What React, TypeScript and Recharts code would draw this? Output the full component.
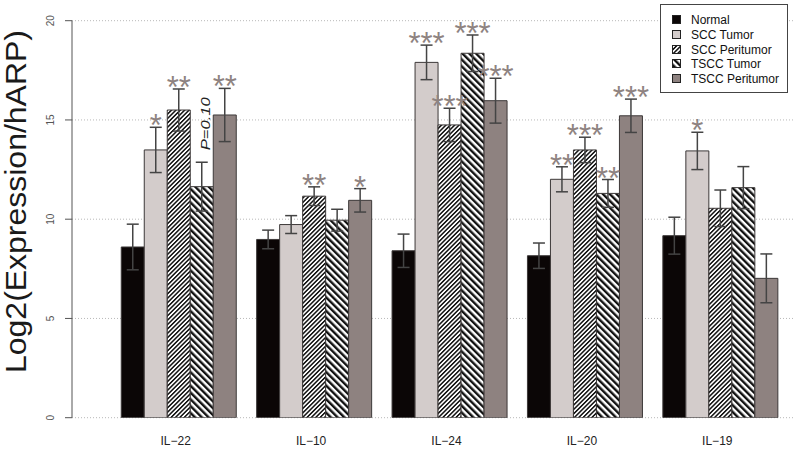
import * as React from 'react';
import { BarChart, Bar, XAxis, YAxis, CartesianGrid, ErrorBar, LabelList } from 'recharts';

// categories (R style minus sign)
const categories = ['IL\u221222', 'IL\u221210', 'IL\u221224', 'IL\u221220', 'IL\u221219'];

// Log2(Expression/hARP) means and error bar half widths
const normal = [8.6, 8.98, 8.41, 8.16, 9.17];
const normalErr = [1.15, 0.47, 0.84, 0.64, 0.93];
const sccTumor = [13.49, 9.73, 17.9, 12.01, 13.44];
const sccTumorErr = [1.14, 0.45, 0.87, 0.63, 0.94];
const sccPeri = [15.5, 11.16, 14.75, 13.49, 10.55];
const sccPeriErr = [1.06, 0.47, 0.84, 0.64, 0.92];
const tsccTumor = [11.64, 9.95, 18.36, 11.3, 11.59];
const tsccTumorErr = [1.23, 0.55, 0.92, 0.7, 1.06];
const tsccPeri = [15.25, 10.95, 15.97, 15.21, 7.02];
const tsccPeriErr = [1.34, 0.59, 1.13, 0.84, 1.23];

// significance marks above each bar
const sccTumorSig = ['*', '', '***', '**', '*'];
const sccPeriSig = ['**', '**', '***', '***', ''];
const tsccTumorSig = ['P=0.10', '', '***', '**', ''];
const tsccPeriSig = ['**', '*', '***', '***', ''];

const yTicks = [0, 5, 10, 15, 20];

const rows = categories.map((name, i) => ({
	name,
	normal: normal[i], normalErr: normalErr[i],
	sccTumor: sccTumor[i], sccTumorErr: sccTumorErr[i],
	sccPeri: sccPeri[i], sccPeriErr: sccPeriErr[i],
	tsccTumor: tsccTumor[i], tsccTumorErr: tsccTumorErr[i],
	tsccPeri: tsccPeri[i], tsccPeriErr: tsccPeriErr[i],
}));

const FONT = '"Liberation Sans", Arial, sans-serif';
const SIG_COLOR = '#8e8381';
const EDGE = '#3c3838';

const legendItems = [
	{ name: 'Normal', fill: '#0b0606' },
	{ name: 'SCC Tumor', fill: '#d3cccb' },
	{ name: 'SCC Peritumor', fill: 'url(#sccPeriPat)' },
	{ name: 'TSCC Tumor', fill: 'url(#tsccTumorPat)' },
	{ name: 'TSCC Peritumor', fill: '#8e8280' },
];

function sigLabel(sig: string[], values: number[], err: number[]) {
	return (props: any) => {
		const vb = props.viewBox && props.viewBox.width != null ? props.viewBox : props;
		const { x, y, width, height } = vb;
		const index = props.index;
		const text = sig[index];
		if (!text) return null;
		const unit = height / values[index];
		const top = y - err[index] * unit;
		const cx = x + width / 2;
		if (text.startsWith('P')) {
			const bx = cx + 8;
			const by = top - 12;
			return (
				<text x={bx} y={by} transform={`rotate(-90 ${bx} ${by})`} fontSize={12.5} fontStyle="italic"
					fontFamily={FONT} fill="#222" textLength={53} lengthAdjust="spacingAndGlyphs">
					{text}
				</text>
			);
		}
		return (
			<text x={cx} y={top + 9} textAnchor="middle" fontSize={31} fontFamily={FONT} fill={SIG_COLOR}>
				{text}
			</text>
		);
	};
}

const YTick = (p: any) => (
	<text x={p.x - 11} y={p.y} transform={`rotate(-90 ${p.x - 11} ${p.y})`} textAnchor="middle"
		fontSize={10} fontFamily={FONT} fill="#555">
		{p.payload.value}
	</text>
);

const XTick = (p: any) => (
	<text x={p.x - 2} y={p.y + 27.6} textAnchor="middle" fontSize={12} fontFamily={FONT} fill="#222">
		{p.payload.value}
	</text>
);

export default function App() {
	return (
		<div style={{ position: 'absolute', left: 0, top: 0, width: 797, height: 450, background: '#fff' }}>
			<BarChart width={797} height={450} data={rows}
				margin={{ top: 20.7, right: 2, bottom: 7.3, left: 12 }}
				barCategoryGap={11.25} barGap={0}>
				<defs>
					<pattern id="sccPeriPat" patternUnits="userSpaceOnUse" width={3.1} height={3.1} patternTransform="rotate(45)">
						<rect width={3.1} height={3.1} fill="#fff" />
						<rect width={1.5} height={3.1} fill="#111" />
					</pattern>
					<pattern id="tsccTumorPat" patternUnits="userSpaceOnUse" width={4.8} height={4.8} patternTransform="rotate(-45)">
						<rect width={4.8} height={4.8} fill="#fff" />
						<rect width={2.4} height={4.8} fill="#111" />
					</pattern>
				</defs>
				<CartesianGrid vertical={false} stroke="#b8b8b8" strokeDasharray="1 2" />
				<XAxis dataKey="name" axisLine={false} tickLine={false} tickSize={0} tickMargin={0} height={25}
					padding={{ left: 38, right: 8 }} tick={XTick} interval={0} />
				<YAxis domain={[0, 20]} ticks={yTicks} width={60} tickSize={7} tickMargin={0}
					stroke="#555" tick={YTick} allowDataOverflow />
				<Bar dataKey="normal" fill="#0b0606" stroke={EDGE} strokeWidth={1} isAnimationActive={false}>
					<ErrorBar dataKey="normalErr" width={6} stroke="#444" strokeWidth={1.5} direction="y" />
				</Bar>
				<Bar dataKey="sccTumor" fill="#d3cccb" stroke={EDGE} strokeWidth={1} isAnimationActive={false}>
					<ErrorBar dataKey="sccTumorErr" width={6} stroke="#444" strokeWidth={1.5} direction="y" />
					<LabelList dataKey="sccTumor" content={sigLabel(sccTumorSig, sccTumor, sccTumorErr)} />
				</Bar>
				<Bar dataKey="sccPeri" fill="url(#sccPeriPat)" stroke={EDGE} strokeWidth={1} isAnimationActive={false}>
					<ErrorBar dataKey="sccPeriErr" width={6} stroke="#444" strokeWidth={1.5} direction="y" />
					<LabelList dataKey="sccPeri" content={sigLabel(sccPeriSig, sccPeri, sccPeriErr)} />
				</Bar>
				<Bar dataKey="tsccTumor" fill="url(#tsccTumorPat)" stroke={EDGE} strokeWidth={1} isAnimationActive={false}>
					<ErrorBar dataKey="tsccTumorErr" width={6} stroke="#444" strokeWidth={1.5} direction="y" />
					<LabelList dataKey="tsccTumor" content={sigLabel(tsccTumorSig, tsccTumor, tsccTumorErr)} />
				</Bar>
				<Bar dataKey="tsccPeri" fill="#8e8280" stroke={EDGE} strokeWidth={1} isAnimationActive={false}>
					<ErrorBar dataKey="tsccPeriErr" width={6} stroke="#444" strokeWidth={1.5} direction="y" />
					<LabelList dataKey="tsccPeri" content={sigLabel(tsccPeriSig, tsccPeri, tsccPeriErr)} />
				</Bar>
			</BarChart>

			{/* y axis title */}
			<svg style={{ position: 'absolute', left: 0, top: 0 }} width={60} height={450}>
				<text x={26} y={201.5} transform="rotate(-90 26 201.5)" textAnchor="middle" fontSize={29}
					fontFamily={FONT} fill="#1a1a1a" textLength={343} lengthAdjust="spacingAndGlyphs">
					Log2(Expression/hARP)
				</text>
			</svg>

			{/* legend box */}
			<div style={{
				position: 'absolute', left: 660, top: 4, width: 126, height: 87, border: '1px solid #444',
				background: '#fff', fontFamily: FONT, fontSize: 12, color: '#111',
			}}>
				{legendItems.map((it, i) => (
					<div key={it.name} style={{ position: 'absolute', left: 11, top: 8 + i * 14.8, height: 14, display: 'flex', alignItems: 'center' }}>
						<svg width={10} height={10} style={{ marginRight: 9 }}>
							<rect x={0.5} y={0.5} width={8} height={8} fill={it.fill} stroke="#222" strokeWidth={1} />
						</svg>
						<span style={{ lineHeight: '14px', whiteSpace: 'nowrap' }}>{it.name}</span>
					</div>
				))}
			</div>
		</div>
	);
}
